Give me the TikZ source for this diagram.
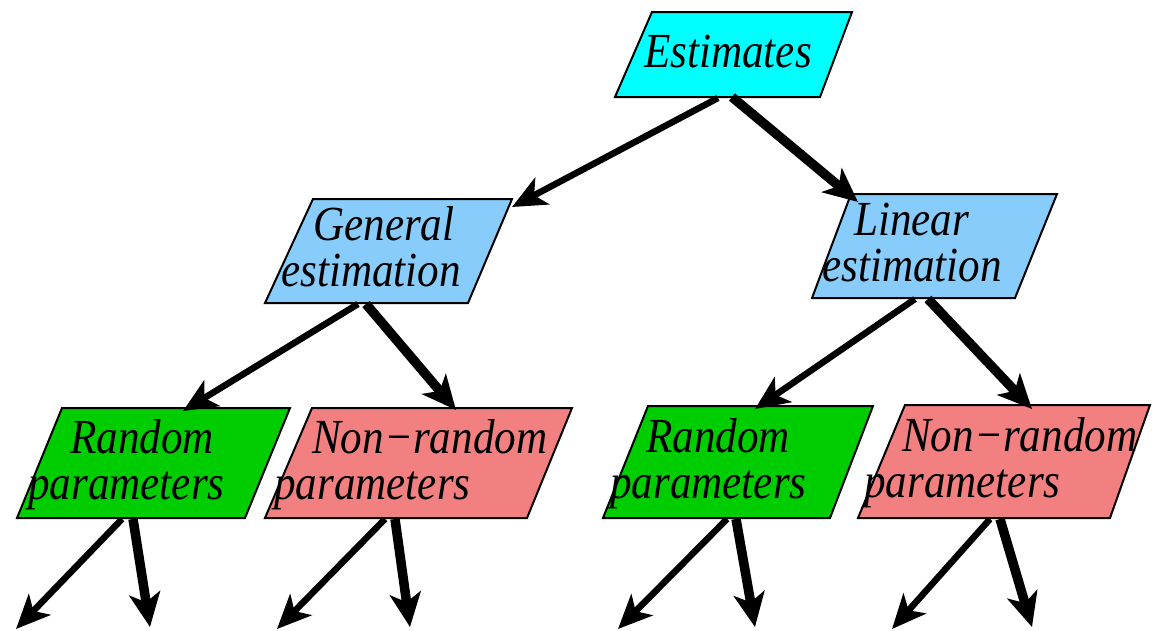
\documentclass[tikz,border=0pt]{standalone}
\usepackage{fontspec}
\setmainfont{Liberation Serif}[FakeStretch=0.88]
\usetikzlibrary{arrows.meta}
\definecolor{cest}{RGB}{0,255,255}
\definecolor{cblue}{RGB}{135,204,250}
\definecolor{cgreen}{RGB}{0,205,0}
\definecolor{cpink}{RGB}{242,128,128}
\tikzset{
  box/.style={draw=black,line width=2pt,line join=miter},
  txt/.style={anchor=base west,inner sep=0pt,align=left,
    font=\fontsize{49}{46}\selectfont\itshape},
  arr/.style={line width=6.5pt,-{Stealth[length=34pt,width=30pt,inset=9pt]}},
  thick arr/.style={line width=9.5pt,-{Stealth[length=34pt,width=31pt,inset=9pt]}},
}
\begin{document}
\begin{tikzpicture}[x=1pt,y=-1pt]
\useasboundingbox (0,0) rectangle (1152,630);
% boxes
\draw[box,fill=cest] (652,12) -- (852,12) -- (820,97) -- (615,97) -- cycle;
\draw[box,fill=cblue] (313,199) -- (512,199) -- (468,303) -- (265,303) -- cycle;
\draw[box,fill=cblue] (851,194) -- (1057,194) -- (1015,298) -- (812,298) -- cycle;
\draw[box,fill=cgreen] (62,408) -- (290,408) -- (245,518) -- (17,518) -- cycle;
\draw[box,fill=cpink] (312,408) -- (572,408) -- (527,518) -- (265,518) -- cycle;
\draw[box,fill=cgreen] (648,406) -- (873,406) -- (830,518) -- (603,518) -- cycle;
\draw[box,fill=cpink] (905,405) -- (1150,405) -- (1110,518) -- (858,518) -- cycle;
% texts
\node[txt] (t1) at (644,67) {Estimates};
\node[txt] (t2) at (281,286) {\hspace*{32pt}General\\estimation};
\node[txt] (t3) at (822,281) {\hspace*{32pt}Linear\\estimation};
\node[txt] (t4) at (28,499) {\hspace*{42pt}Random\\parameters};
\node[txt] (t5) at (274,499) {\hspace*{38pt}Non−random\\parameters};
\node[txt] (t6) at (610,498) {\hspace*{36pt}Random\\parameters};
\node[txt] (t7) at (864,497) {\hspace*{38pt}Non−random\\parameters};
% connector coordinates
\coordinate (e1) at (718,98);
\coordinate (e2) at (732,97);
\coordinate (g1) at (512,207);
\coordinate (l1) at (858,202);
\coordinate (gb1) at (358,304);
\coordinate (gb2) at (366,304);
\coordinate (lb1) at (915,299);
\coordinate (lb2) at (928,299);
\coordinate (r1) at (183,411);
\coordinate (n1) at (456,410);
\coordinate (r2) at (755,409);
\coordinate (n2) at (1032,409);
\coordinate (rb1) at (122,519);
\coordinate (rb2) at (133,519);
\coordinate (nb1) at (385,519);
\coordinate (nb2) at (395,519);
\coordinate (rb3) at (727,519);
\coordinate (rb4) at (736,519);
\coordinate (nb3) at (990,519);
\coordinate (nb4) at (1000,519);
\coordinate (o1) at (16,629);
\coordinate (o2) at (150,627);
\coordinate (o3) at (277,629);
\coordinate (o4) at (410,627);
\coordinate (o5) at (618,629);
\coordinate (o6) at (755,627);
\coordinate (o7) at (892,629);
\coordinate (o8) at (1032,627);
% connectors
\draw[arr] (e1) -- (g1);
\draw[thick arr] (e2) -- (l1);
\draw[arr] (gb1) -- (r1);
\draw[thick arr] (gb2) -- (n1);
\draw[arr] (lb1) -- (r2);
\draw[thick arr] (lb2) -- (n2);
\draw[arr] (rb1) -- (o1);
\draw[thick arr] (rb2) -- (o2);
\draw[arr] (nb1) -- (o3);
\draw[thick arr] (nb2) -- (o4);
\draw[arr] (rb3) -- (o5);
\draw[thick arr] (rb4) -- (o6);
\draw[arr] (nb3) -- (o7);
\draw[thick arr] (nb4) -- (o8);
\end{tikzpicture}
\end{document}
